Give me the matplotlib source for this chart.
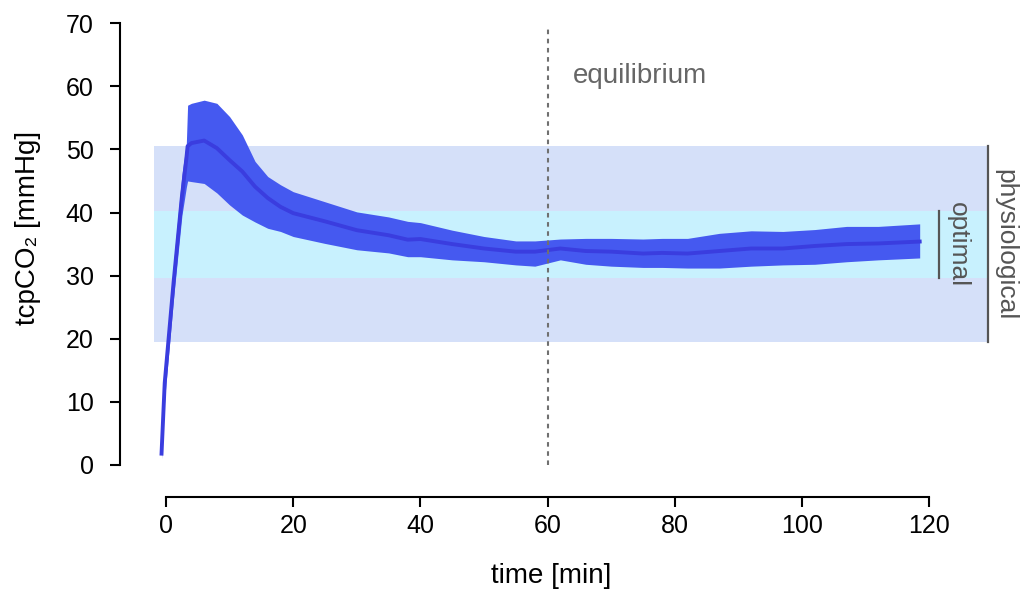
import numpy as np
import matplotlib
matplotlib.use('Agg')
from matplotlib import pyplot as plt

plt.rcParams['font.family'] = ['Liberation Sans', 'DejaVu Sans']

# time [min] and tcpCO2 (mean, upper, lower)
time = [-0.7, -0.2, 1.2, 2.5, 3.2, 3.4, 4, 6, 8, 10, 12, 14, 16, 18, 20, 25, 30, 35, 38,
        40, 45, 50, 55, 58, 62, 66, 70, 75, 78, 82, 87, 92, 97, 102, 107, 112, 118.5]
mean = [1.8, 13.0, 29.0, 42.5, 48.5, 50.5, 51.0, 51.4, 50.2, 48.3, 46.5, 44.1, 42.3, 40.9, 39.9,
        38.6, 37.2, 36.4, 35.7, 35.8, 35.0, 34.3, 33.8, 33.8, 34.3, 33.9, 33.8, 33.5, 33.6,
        33.5, 33.9, 34.3, 34.3, 34.7, 35.0, 35.1, 35.4]
upper = [2.6, 15.5, 32.0, 46.0, 51.0, 57.0, 57.3, 57.8, 57.3, 55.2, 52.3, 48.1, 45.7, 44.4, 43.3,
         41.7, 40.1, 39.3, 38.6, 38.4, 37.2, 36.2, 35.5, 35.5, 35.8, 35.9, 35.9, 35.8, 35.9,
         35.9, 36.7, 37.1, 37.0, 37.3, 37.8, 37.8, 38.2]
lower = [1.0, 10.5, 26.5, 39.5, 44.0, 45.0, 44.9, 44.6, 43.1, 41.2, 39.6, 38.5, 37.5, 37.0, 36.2,
         35.1, 34.1, 33.6, 33.0, 33.0, 32.5, 32.2, 31.7, 31.5, 32.5, 31.8, 31.5, 31.3, 31.3,
         31.2, 31.2, 31.5, 31.7, 31.8, 32.2, 32.5, 32.8]

physio = (19.5, 50.5)
optimal = (29.6, 40.2)
band_x = (-1.9, 129.3)
equilibrium_t = 60

fig = plt.figure(figsize=(10.22, 5.97), dpi=100)
ax = fig.add_axes([120 / 1022, 100 / 597, 890 / 1022, 477 / 597])
ax.set_xlim(-7.23, 132.7)
ax.set_ylim(-5.07, 70.5)

# reference bands
ax.fill_between(band_x, physio[0], physio[1], color='#d5e0f9', lw=0, zorder=1)
ax.fill_between(band_x, optimal[0], optimal[1], color='#c8f1fe', lw=0, zorder=1)

# data
ax.fill_between(time, lower, upper, color='#4559f0', lw=0, zorder=2)
ax.plot(time, mean, color='#3a3ddf', lw=2.8, zorder=3)

# equilibrium marker
ax.plot([equilibrium_t, equilibrium_t], [0, 69.5], color='#707070', lw=1.5,
        ls=(0, (2.2, 2.2)), zorder=4)
ax.text(63.9, 61.7, 'equilibrium', color='#666666', fontsize=20, va='center', ha='left')

# brackets on the right
ax.plot([129.3, 129.3], [physio[0], physio[1]], color='#555555', lw=1.6, clip_on=False)
ax.text(132.0, 34.9, 'physiological', rotation=-90, color='#555555', fontsize=19,
        ha='center', va='center', clip_on=False)
ax.plot([121.6, 121.6], [optimal[0], optimal[1]], color='#555555', lw=1.6, clip_on=False)
ax.text(124.5, 34.9, 'optimal', rotation=-90, color='#555555', fontsize=19,
        ha='center', va='center', clip_on=False)

# R-style axes
for s in ['top', 'right']:
    ax.spines[s].set_visible(False)
ax.spines['left'].set_bounds(0, 70)
ax.spines['bottom'].set_bounds(0, 120)
ax.spines['left'].set_linewidth(1.5)
ax.spines['bottom'].set_linewidth(1.5)
ax.set_xticks(range(0, 121, 20))
ax.set_yticks(range(0, 71, 10))
ax.tick_params(axis='both', direction='out', length=7, width=1.5, labelsize=18)
ax.tick_params(axis='y', pad=12)
ax.tick_params(axis='x', pad=5)

fig.text(28 / 1022, 1 - 228 / 597, 'tcpCO₂ [mmHg]', fontsize=20, rotation=90,
         ha='center', va='center')
fig.text(551 / 1022, 1 - 576 / 597, 'time [min]', fontsize=20, ha='center', va='center')

fig.savefig('out.png', dpi=100)
